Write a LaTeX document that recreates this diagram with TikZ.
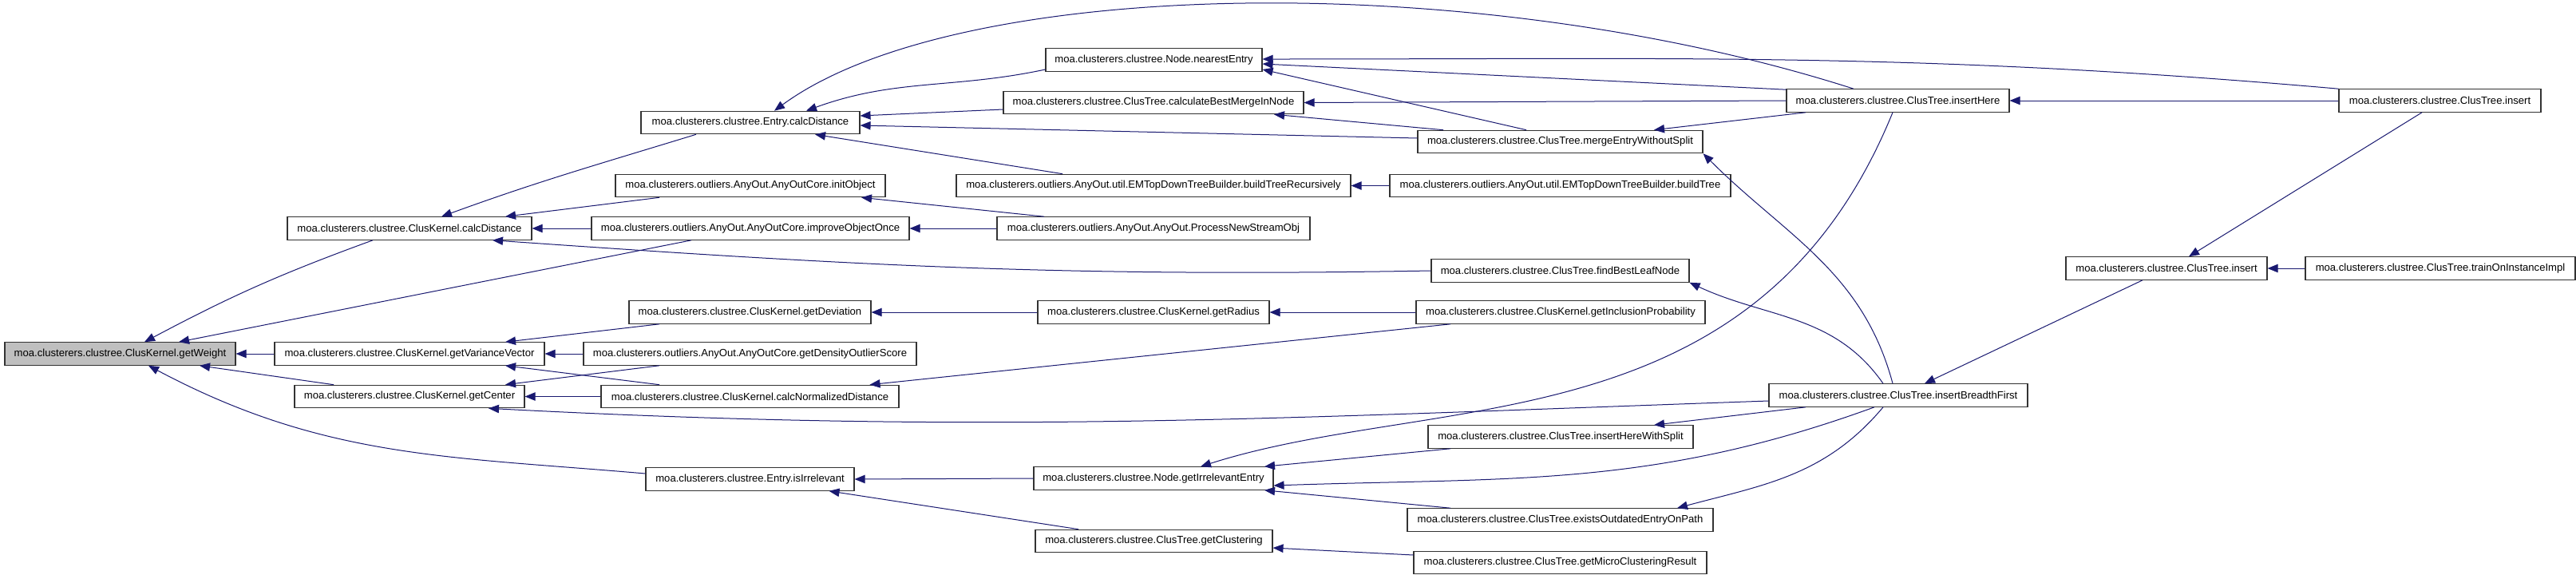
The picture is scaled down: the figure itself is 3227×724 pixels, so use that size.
\documentclass[tikz,border=0pt]{standalone}
\usepackage{fontspec}
\usepackage{xcolor}
\usepackage{tikz}
\usetikzlibrary{arrows.meta,calc}
\newfontfamily\dxfont{Liberation Sans}
\definecolor{edgeblue}{HTML}{191970}
\definecolor{rootgray}{HTML}{BFBFBF}

\begin{document}
\begin{tikzpicture}[
x=0.5pt, y=-0.5pt,
box/.style={
draw=black!80,
fill=white,
line width=0.55pt,
minimum height=14.25pt,
inner sep=0pt,
font=\dxfont\fontsize{6.55pt}{8pt}\selectfont
},
arrow/.style={
-{Triangle[length=6.5pt,width=5.2pt]},
draw=edgeblue,
line width=0.5pt
}
]
\useasboundingbox (0,0) rectangle (3227,724);

\node[box, fill=rootgray, minimum width=144.5pt] (getWeight) at (150.5,443) {moa.clusterers.clustree.ClusKernel.getWeight};

\node[box, minimum width=153pt] (kcalc) at (513,286) {moa.clusterers.clustree.ClusKernel.calcDistance};
\node[box, minimum width=169pt] (getVar) at (513,443) {moa.clusterers.clustree.ClusKernel.getVarianceVector};
\node[box, minimum width=144pt] (getCenter) at (513,496.5) {moa.clusterers.clustree.ClusKernel.getCenter};

\node[box, minimum width=137pt] (ecalc) at (940,153.5) {moa.clusterers.clustree.Entry.calcDistance};
\node[box, minimum width=169pt] (initObject) at (940,232.5) {moa.clusterers.outliers.AnyOut.AnyOutCore.initObject};
\node[box, minimum width=199pt] (improve) at (940,286) {moa.clusterers.outliers.AnyOut.AnyOutCore.improveObjectOnce};
\node[box, minimum width=151.5pt] (getDeviation) at (939.5,391) {moa.clusterers.clustree.ClusKernel.getDeviation};
\node[box, minimum width=208.5pt] (getDensity) at (939.5,443) {moa.clusterers.outliers.AnyOut.AnyOutCore.getDensityOutlierScore};
\node[box, minimum width=186.5pt] (calcNorm) at (939.5,496.5) {moa.clusterers.clustree.ClusKernel.calcNormalizedDistance};
\node[box, minimum width=130.5pt] (isIrrelevant) at (939.5,600) {moa.clusterers.clustree.Entry.isIrrelevant};

\node[box, minimum width=135.5pt] (nearestEntry) at (1445.5,75) {moa.clusterers.clustree.Node.nearestEntry};
\node[box, minimum width=188pt] (calcBest) at (1445,128.5) {moa.clusterers.clustree.ClusTree.calculateBestMergeInNode};
\node[box, minimum width=247pt] (buildTreeRec) at (1445,232.5) {moa.clusterers.outliers.AnyOut.util.EMTopDownTreeBuilder.buildTreeRecursively};
\node[box, minimum width=196pt] (processNew) at (1445,286) {moa.clusterers.outliers.AnyOut.AnyOut.ProcessNewStreamObj};
\node[box, minimum width=145pt] (getRadius) at (1445,391) {moa.clusterers.clustree.ClusKernel.getRadius};
\node[box, minimum width=150pt] (getIrrEntry) at (1445,599) {moa.clusterers.clustree.Node.getIrrelevantEntry};
\node[box, minimum width=148.5pt] (getClustering) at (1445.5,677.5) {moa.clusterers.clustree.ClusTree.getClustering};

\node[box, minimum width=178.5pt] (mergeEntry) at (1954.5,177.5) {moa.clusterers.clustree.ClusTree.mergeEntryWithoutSplit};
\node[box, minimum width=213.5pt] (buildTree) at (1954.5,232.5) {moa.clusterers.outliers.AnyOut.util.EMTopDownTreeBuilder.buildTree};
\node[box, minimum width=161.5pt] (findBestLeaf) at (1954.5,339) {moa.clusterers.clustree.ClusTree.findBestLeafNode};
\node[box, minimum width=181pt] (getInclusion) at (1955,391) {moa.clusterers.clustree.ClusKernel.getInclusionProbability};
\node[box, minimum width=166pt] (insertHWS) at (1955,547) {moa.clusterers.clustree.ClusTree.insertHereWithSplit};
\node[box, minimum width=191.5pt] (existsOut) at (1954.5,651) {moa.clusterers.clustree.ClusTree.existsOutdatedEntryOnPath};
\node[box, minimum width=183.5pt] (getMicro) at (1954.5,704.5) {moa.clusterers.clustree.ClusTree.getMicroClusteringResult};

\node[box, minimum width=139.5pt] (insertHere) at (2377.5,126) {moa.clusterers.clustree.ClusTree.insertHere};
\node[box, minimum width=162pt] (insertBF) at (2378,495) {moa.clusterers.clustree.ClusTree.insertBreadthFirst};

\node[box, minimum width=126pt] (insertMid) at (2714,336) {moa.clusterers.clustree.ClusTree.insert};

\node[box, minimum width=126.5pt] (insertTop) at (3056.5,126) {moa.clusterers.clustree.ClusTree.insert};
\node[box, minimum width=169pt] (train) at (3057,336) {moa.clusterers.clustree.ClusTree.trainOnInstanceImpl};

\draw[arrow] ($(kcalc.south)+(-46,0)$) to[out=200,in=28] ($(getWeight.north)+(30.5,0)$);

\draw[arrow] ($(improve.south)+(-74,0)$) -- ($(getWeight.north)+(73.5,0)$);

\draw[arrow] (getVar.west) -- (getWeight.east);

\draw[arrow] ($(getCenter.north)+(-95,0)$) -- ($(getWeight.south)+(99.5,0)$);

\draw[arrow] ($(isIrrelevant.west)+(0,-7)$) to[out=175,in=-28] ($(getWeight.south)+(35.5,0)$);

\draw[arrow] ($(ecalc.south)+(-68,0)$) to[out=197,in=20] ($(kcalc.north)+(40,0)$);

\draw[arrow] ($(initObject.south)+(-114,0)$) -- ($(kcalc.north)+(120,0)$);

\draw[arrow] (improve.west) -- (kcalc.east);

\draw[arrow] (findBestLeaf.west) to[out=181,in=-4] ($(kcalc.south)+(104,0)$);

\draw[arrow] ($(getDeviation.south)+(-113.5,0)$) -- ($(getVar.north)+(120,0)$);

\draw[arrow] (getDensity.west) -- (getVar.east);

\draw[arrow] ($(calcNorm.north)+(-113.5,0)$) -- ($(getVar.south)+(120,0)$);

\draw[arrow] ($(getDensity.south)+(-113.5,0)$) -- ($(getCenter.north)+(120,0)$);

\draw[arrow] (calcNorm.west) -- (getCenter.east);

\draw[arrow] ($(insertBF.west)+(0,7)$) to[out=182,in=-3] ($(getCenter.south)+(99,0)$);

\draw[arrow] ($(insertHere.north)+(-55.5,0)$) .. controls (1850,-40) and (1200,-30) .. ($(ecalc.north)+(30,0)$);

\draw[arrow] ($(nearestEntry.west)+(0,12)$) to[out=192,in=20] ($(ecalc.north)+(70,0)$);

\draw[arrow] ($(calcBest.west)+(0,8.5)$) -- ($(ecalc.east)+(0,-8.5)$);

\draw[arrow] ($(mergeEntry.west)+(0,-4.5)$) -- ($(ecalc.east)+(0,3.5)$);

\draw[arrow] ($(buildTreeRec.north)+(-114,0)$) -- ($(ecalc.south)+(81,0)$);

\draw[arrow] ($(processNew.north)+(-137,0)$) -- ($(initObject.south)+(139,0)$);

\draw[arrow] (processNew.west) -- (improve.east);

\draw[arrow] (buildTree.west) -- (buildTreeRec.east);

\draw[arrow] (getRadius.west) -- (getDeviation.east);

\draw[arrow] (getInclusion.west) -- (getRadius.east);

\draw[arrow] ($(getInclusion.south)+(-138,0)$) -- ($(calcNorm.north)+(150,0)$);

\draw[arrow] (getIrrEntry.west) -- (isIrrelevant.east);

\draw[arrow] ($(getClustering.north)+(-94.5,0)$) -- ($(isIrrelevant.south)+(99,0)$);

\draw[arrow] (insertTop.north west) to[out=175,in=0] ($(nearestEntry.east)+(0,-1)$);

\draw[arrow] ($(insertHere.north west)+(0,1)$) -- ($(nearestEntry.east)+(0,5)$);

\draw[arrow] ($(mergeEntry.north)+(-42.5,0)$) -- ($(nearestEntry.east)+(0,12)$);

\draw[arrow] (insertHere.west) -- (calcBest.east);

\draw[arrow] ($(mergeEntry.north)+(-146.5,0)$) -- ($(calcBest.south)+(151,0)$);

\draw[arrow] ($(insertHere.south)+(-115.5,0)$) -- ($(mergeEntry.north)+(117.5,0)$);

\draw[arrow] ($(insertBF.north)+(-7,0)$) to[out=105,in=-45] (mergeEntry.south east);

\draw[arrow] ($(insertBF.north)+(-19,0)$) to[out=125,in=-25] (findBestLeaf.south east);

\draw[arrow] ($(insertHere.south)+(-6.5,0)$) .. controls (2200,560) and (1800,490) .. ($(getIrrEntry.north)+(59,0)$);

\draw[arrow] ($(insertHWS.south)+(-138,0)$) -- ($(getIrrEntry.north)+(139,0)$);

\draw[arrow] ($(insertBF.south)+(-30,0)$) to[out=200,in=2] ($(getIrrEntry.east)+(0,9)$);

\draw[arrow] ($(existsOut.north)+(-137.5,0)$) -- ($(getIrrEntry.south)+(139,0)$);

\draw[arrow] ($(getMicro.west)+(0,-9.5)$) -- ($(getClustering.east)+(0,8.5)$);

\draw[arrow] (insertTop.west) -- (insertHere.east);

\draw[arrow] ($(insertBF.south)+(-116,0)$) -- ($(insertHWS.north)+(117,0)$);

\draw[arrow] ($(insertBF.south)+(-19,0)$) to[out=230,in=15] ($(existsOut.north)+(146.5,0)$);

\draw[arrow] ($(insertMid.south)+(-30,0)$) -- ($(insertBF.north)+(33,0)$);

\draw[arrow] ($(insertTop.south)+(-22.5,0)$) -- ($(insertMid.north)+(28,0)$);

\draw[arrow] (train.west) -- (insertMid.east);

\end{tikzpicture}
\end{document}
